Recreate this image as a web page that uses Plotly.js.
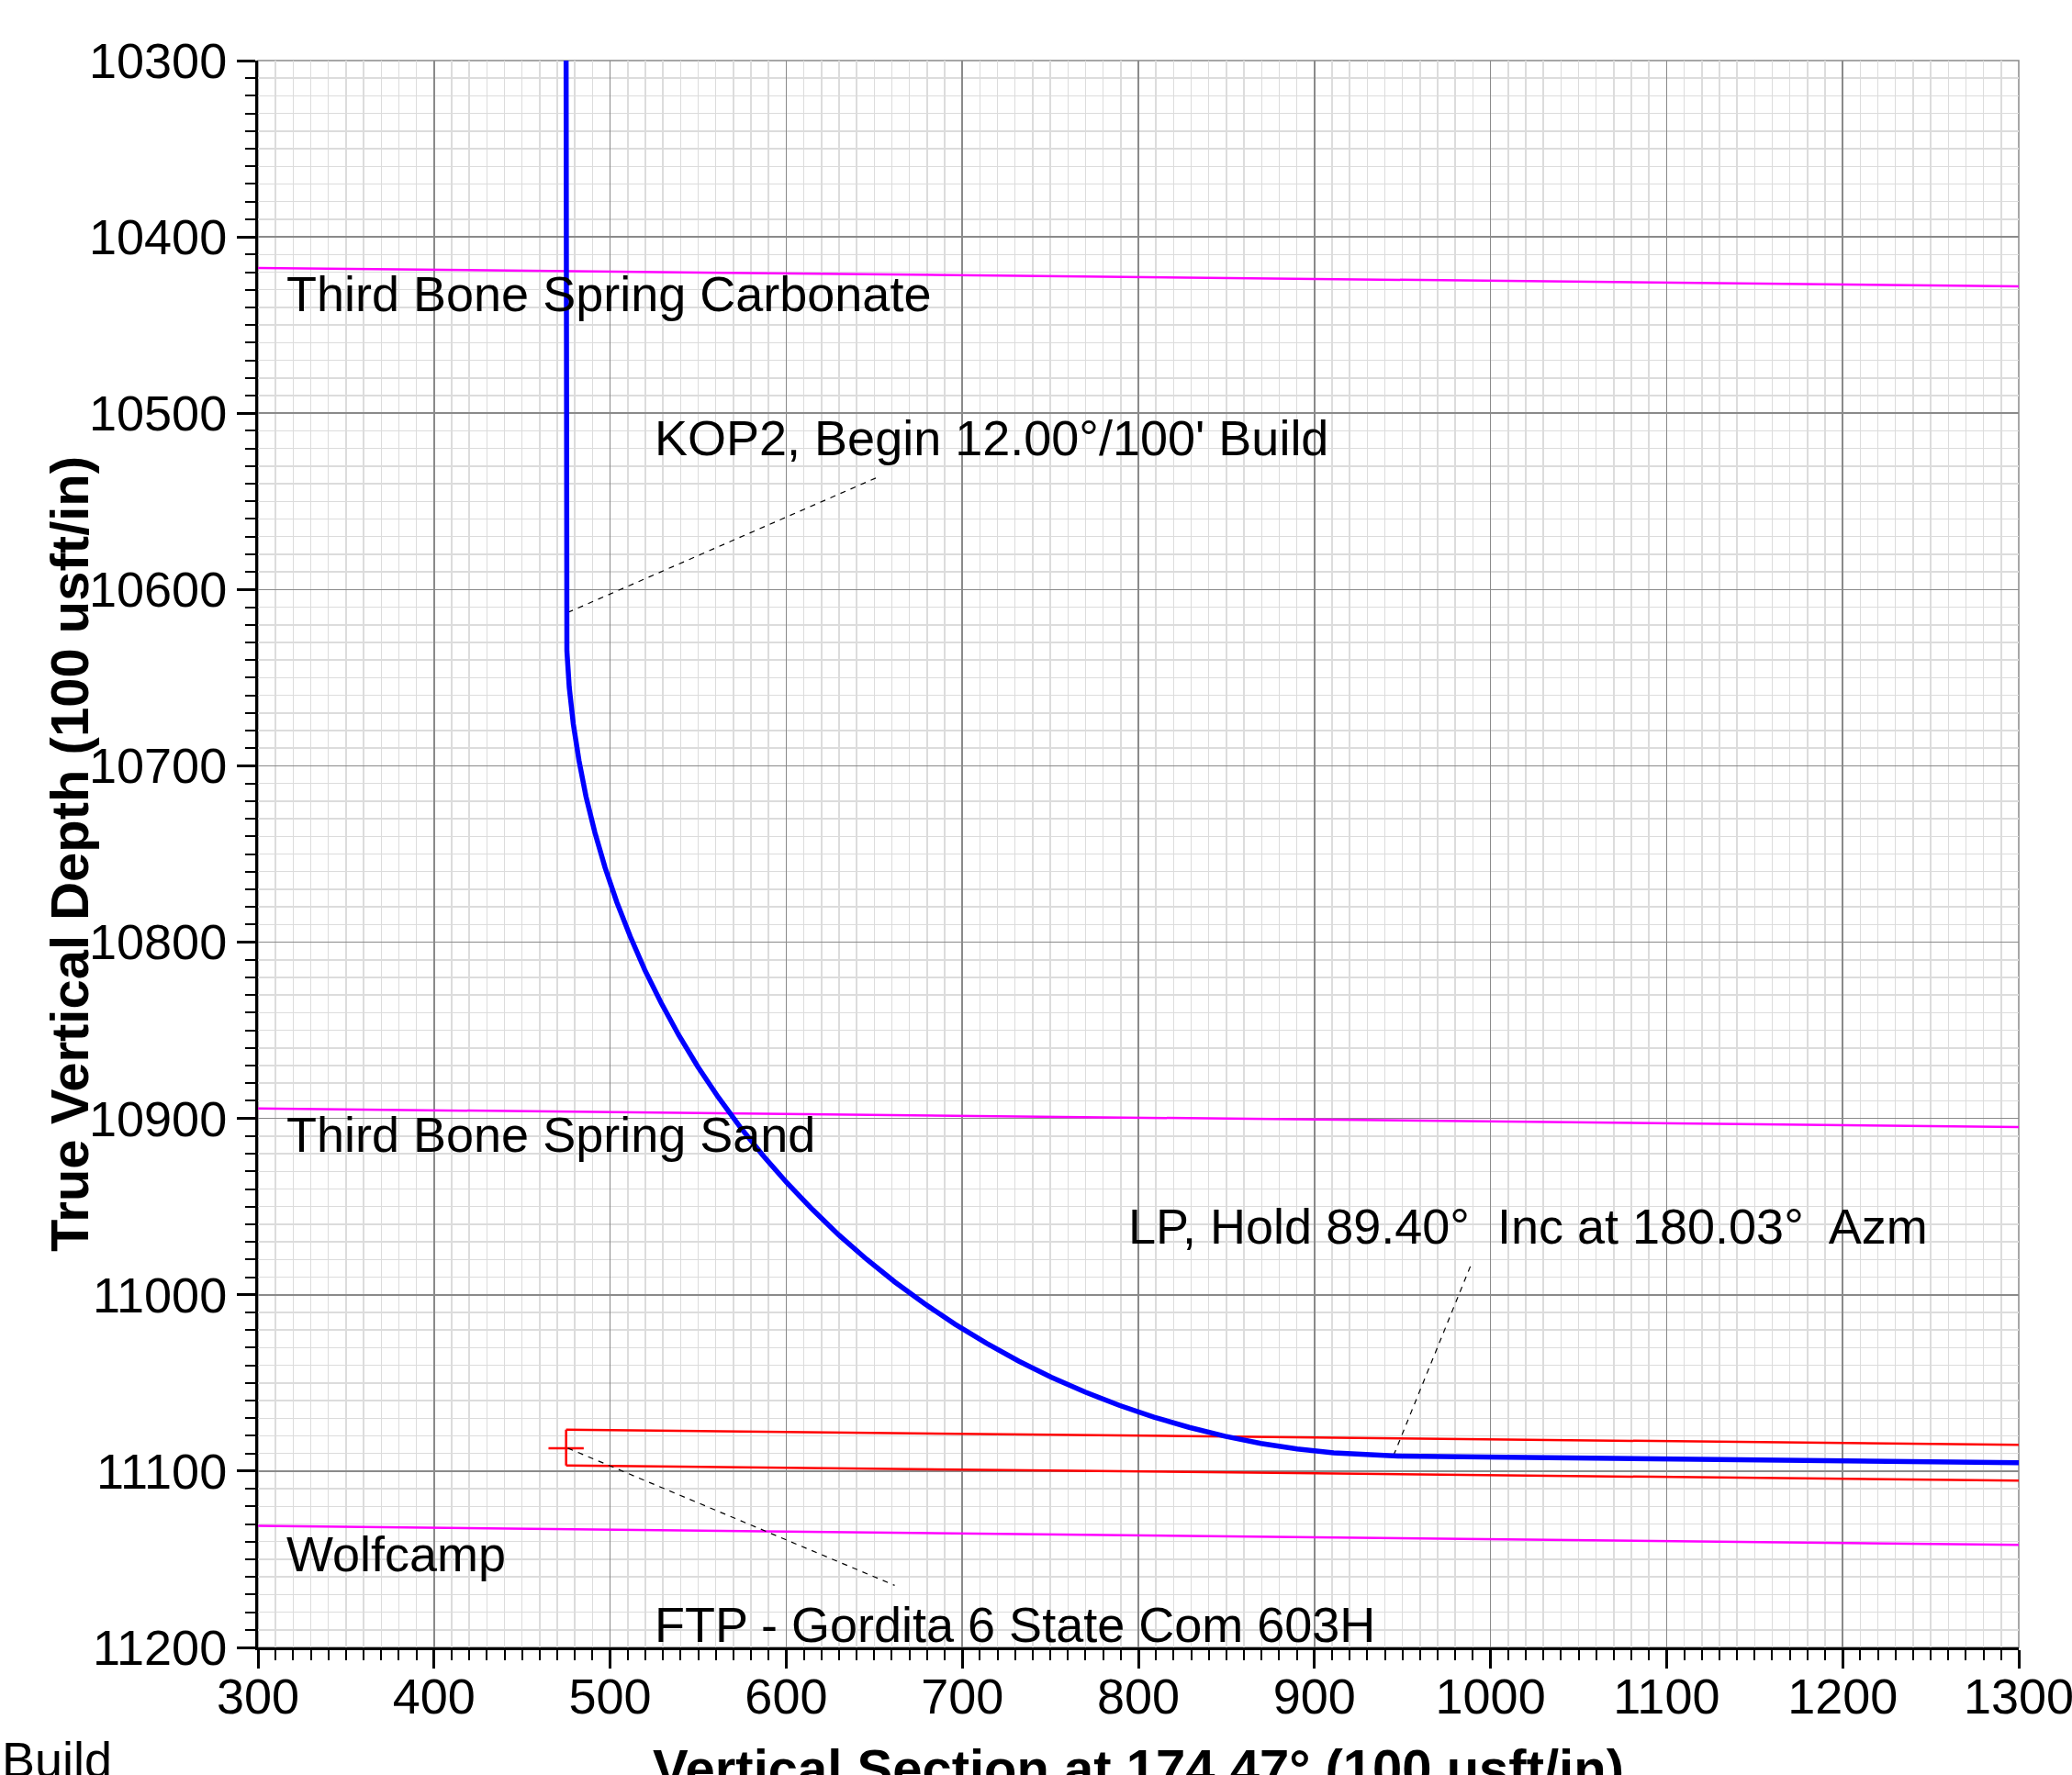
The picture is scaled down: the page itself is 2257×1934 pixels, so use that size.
<!DOCTYPE html>
<html>
<head>
<meta charset="utf-8">
<script src="https://cdn.plot.ly/plotly-3.0.1.min.js"></script>
<style>html,body{margin:0;padding:0;background:#fff;}#chart{width:2257px;height:1934px;}</style>
</head>
<body>
<div id="chart"></div>
<script>
// Well path (vertical section, TVD)
const wellVS  = [475, 475, 475.45, 476.8, 479.1, 482.3, 486.3, 491.3, 497.1, 503.8, 511.4, 519.7, 529.0, 539.0, 549.8, 561.4, 573.7, 586.7, 600.5, 614.9, 629.9, 645.6, 661.8, 678.6, 695.9, 713.8, 732.0, 750.7, 769.8, 789.2, 808.9, 828.9, 849.2, 869.6, 890.2, 910.9, 931.7, 947.5, 1300];
const wellTVD = [10300, 10614, 10634.8, 10655.6, 10676.3, 10696.9, 10717.4, 10737.6, 10757.6, 10777.3, 10796.7, 10815.8, 10834.5, 10852.8, 10870.6, 10887.9, 10904.7, 10920.9, 10936.6, 10951.6, 10966.1, 10979.8, 10992.8, 11005.1, 11016.7, 11027.5, 11037.6, 11046.8, 11055.2, 11062.7, 11069.4, 11075.2, 11080.2, 11084.3, 11087.4, 11089.7, 11091.1, 11091.5, 11095.3];

// Formation tops
const formNames = ["Third Bone Spring Carbonate", "Third Bone Spring Sand", "Wolfcamp"];
const formVS  = [300, 1300];
const formTopsLeft  = [10417.6, 10894.3, 11131.0];
const formTopsRight = [10428.0, 10904.8, 11141.8];
const formLabelVS  = [315, 315, 315];
const formLabelTVD = [10432, 10909, 11147];

// Target window (red)
const boxVS = [475, 1300];
const boxTopTVD = [11076.5, 11085.1];
const boxBotTVD = [11096.8, 11105.4];
const ftpVS = [465, 485];
const ftpTVD = [11087, 11087];

// Annotation labels and leader lines
const noteText = ["KOP2, Begin 12.00°/100' Build", "LP, Hold 89.40°  Inc at 180.03°  Azm", "FTP - Gordita 6 State Com 603H"];
const noteVS  = [524, 793, 524];
const noteTVD = [10514, 10961, 11187];
const leaderVS  = [[476, 652.6], [945, 988.7], [476, 661.6]];
const leaderTVD = [[10613, 10536], [11091, 10983.5], [11087, 11164.8]];

const xTicks = [300, 400, 500, 600, 700, 800, 900, 1000, 1100, 1200, 1300];
const yTicks = [10300, 10400, 10500, 10600, 10700, 10800, 10900, 11000, 11100, 11200];

const xTitle = 'Vertical Section at 174.47° (100 usft/in)';
const yTitle = 'True Vertical Depth (100 usft/in)';

const FONT = "Liberation Sans, Arial, sans-serif";
const traces = [];

formNames.forEach((n, i) => {
  traces.push({x: formVS, y: [formTopsLeft[i], formTopsRight[i]], mode: 'lines', name: n,
    line: {color: '#ff00ff', width: 2.5}, hoverinfo: 'name'});
});
traces.push({x: boxVS, y: boxTopTVD, mode: 'lines', line: {color: '#ff0000', width: 2.5}, name: 'Target top'});
traces.push({x: boxVS, y: boxBotTVD, mode: 'lines', line: {color: '#ff0000', width: 2.5}, name: 'Target bottom'});
traces.push({x: [boxVS[0], boxVS[0]], y: [boxTopTVD[0], boxBotTVD[0]], mode: 'lines', line: {color: '#ff0000', width: 2.5}, name: 'Target edge'});
traces.push({x: ftpVS, y: ftpTVD, mode: 'lines', line: {color: '#ff0000', width: 2.5}, name: 'FTP'});
leaderVS.forEach((lx, i) => {
  traces.push({x: lx, y: leaderTVD[i], mode: 'lines', line: {color: '#000', width: 1.2, dash: '6px,6px'}, name: 'leader'});
});
traces.push({x: wellVS, y: wellTVD, mode: 'lines', line: {color: '#0000ff', width: 5.5, shape: 'linear'}, name: 'Well path'});

const annotations = [];
formNames.forEach((n, i) => {
  annotations.push({x: formLabelVS[i], y: formLabelTVD[i], xref: 'x', yref: 'y', text: n, showarrow: false,
    xanchor: 'left', yanchor: 'middle', font: {family: FONT, size: 54, color: '#000'}});
});
noteText.forEach((t, i) => {
  annotations.push({x: noteVS[i], y: noteTVD[i], xref: 'x', yref: 'y', text: t, showarrow: false,
    xanchor: 'left', yanchor: 'middle', font: {family: FONT, size: 54, color: '#000'}});
});
annotations.push({x: -0.1465, y: -0.052, xref: 'paper', yref: 'paper', text: 'Build', showarrow: false,
  xanchor: 'left', yanchor: 'top', font: {family: FONT, size: 54, color: '#000'}});
// Axis titles placed precisely (as in the original, the x title runs past the bottom edge)
annotations.push({x: -0.1072, y: 0.5, xref: 'paper', yref: 'paper', text: yTitle, showarrow: false,
  textangle: -90, xanchor: 'center', yanchor: 'middle', font: {family: FONT, size: 58, color: '#000', weight: 'bold'}});
annotations.push({x: 0.5, y: -0.0758, xref: 'paper', yref: 'paper', text: xTitle, showarrow: false,
  xanchor: 'center', yanchor: 'middle', font: {family: FONT, size: 58, color: '#000', weight: 'bold'}});

const axisCommon = {
  showline: true, linecolor: '#000', linewidth: 3,
  ticks: 'outside', ticklen: 20, tickwidth: 3, tickcolor: '#000',
  showgrid: true, gridcolor: '#8a8a8a', gridwidth: 1.5,
  zeroline: false, ticklabeloverflow: 'allow', automargin: false,
  tickfont: {family: FONT, size: 54, color: '#000'},
  minor: {dtick: 10, ticks: 'outside', ticklen: 11, tickwidth: 2, tickcolor: '#000', showgrid: true, gridcolor: '#dcdcdc', gridwidth: 1.5}
};

const layout = {
  width: 2257, height: 1934,
  margin: {l: 281, r: 58, t: 66, b: 139},
  paper_bgcolor: '#fff', plot_bgcolor: '#fff',
  showlegend: false,
  font: {family: FONT, color: '#000'},
  xaxis: Object.assign({}, axisCommon, {
    range: [300, 1300.0001], tickmode: 'array', tickvals: xTicks, ticktext: xTicks.map(String),
    ticklabelstandoff: -16
  }),
  yaxis: Object.assign({}, axisCommon, {
    range: [11200, 10299.9999], tickmode: 'array', tickvals: yTicks, ticktext: yTicks.map(String)
  }),
  shapes: [
    {type: 'rect', xref: 'paper', yref: 'paper', x0: 0, x1: 1, y0: 0, y1: 1, line: {color: '#8a8a8a', width: 1.5}, layer: 'below'}
  ],
  annotations: annotations
};

Plotly.newPlot('chart', traces, layout, {displayModeBar: false, staticPlot: true});
</script>
</body>
</html>
